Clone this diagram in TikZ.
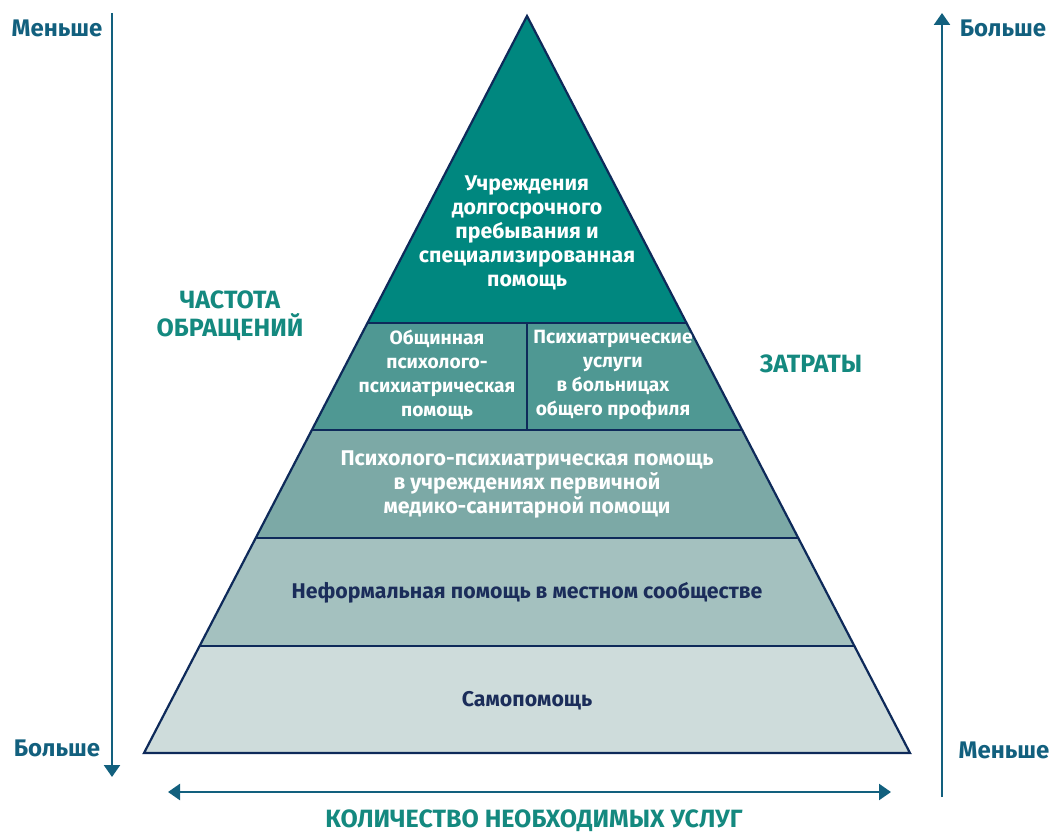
\documentclass[tikz,border=0pt]{standalone}
\usepackage{fontspec}
\setmainfont{Fira Sans}
\usetikzlibrary{arrows.meta}
\definecolor{c1}{HTML}{00877F}
\definecolor{c2}{HTML}{4F9893}
\definecolor{c3}{HTML}{7CA9A6}
\definecolor{c4}{HTML}{A4C1BF}
\definecolor{c5}{HTML}{CEDCDB}
\definecolor{edge}{HTML}{0E2A5A}
\definecolor{navytxt}{HTML}{1B2D5A}
\definecolor{arr}{HTML}{12607E}
\definecolor{tealtxt}{HTML}{14897F}
\tikzset{
  tier/.style={draw=edge, line width=2.2pt, line join=miter},
  wtxt/.style={text=white, font=\bfseries\fontsize{21.3}{24}\selectfont, align=center, inner sep=0pt},
  wsmall/.style={text=white, font=\bfseries\fontsize{19.2}{24}\selectfont, align=center, inner sep=0pt},
  ntxt/.style={text=navytxt, font=\bfseries\fontsize{21.3}{24}\selectfont, align=center, inner sep=0pt},
  axis/.style={draw=arr, line width=2.4pt},
  tip/.style={-{Triangle[width=16pt,length=12pt]}},
  axlbl/.style={text=arr, font=\bfseries\fontsize{24}{28}\selectfont, inner sep=0pt},
  ttl/.style={text=tealtxt, font=\bfseries\fontsize{25}{28}\selectfont, align=center, inner sep=0pt},
}
\begin{document}
\begin{tikzpicture}[x=1pt,y=-1pt]
\useasboundingbox (0,0) rectangle (1053,834);
% pyramid corners
\coordinate (A) at (527,16);
\coordinate (L1) at (367.5,323); \coordinate (R1) at (686.5,323);
\coordinate (L2) at (311.8,430); \coordinate (R2) at (742.2,430);
\coordinate (L3) at (255.7,538); \coordinate (R3) at (798.3,538);
\coordinate (L4) at (199.6,646); \coordinate (R4) at (854.4,646);
\coordinate (L5) at (144,753);   \coordinate (R5) at (910,753);
\coordinate (M1) at (527,323); \coordinate (M2) at (527,430);
\fill[c5] (L4) -- (R4) -- (R5) -- (L5) -- cycle;
\fill[c4] (L3) -- (R3) -- (R4) -- (L4) -- cycle;
\fill[c3] (L2) -- (R2) -- (R3) -- (L3) -- cycle;
\fill[c2] (L1) -- (R1) -- (R2) -- (L2) -- cycle;
\fill[c1] (A) -- (R1) -- (L1) -- cycle;
\draw[tier] (L1) -- (R1);
\draw[tier] (L2) -- (R2);
\draw[tier] (L3) -- (R3);
\draw[tier] (L4) -- (R4);
\draw[tier] (M1) -- (M2);
\draw[tier] (A) -- (R5) -- (L5) -- cycle;
% texts
\node[wtxt] (t1) at (527,233) {Учреждения\\долгосрочного\\пребывания и\\специализированная\\помощь};
\node[wsmall] (t2a) at (437,375) {Общинная\\психолого-\\психиатрическая\\помощь};
\node[wsmall] (t2b) at (613,375) {Психиатрические\\услуги\\в больницах\\общего профиля};
\node[wtxt] (t3) at (527,484) {Психолого-психиатрическая помощь\\в учреждениях первичной\\медико-санитарной помощи};
\node[ntxt] (t4) at (527,593) {Неформальная помощь в местном сообществе};
\node[ntxt] (t5) at (527,701) {Самопомощь};
% axes
\coordinate (la) at (112,13); \coordinate (lb) at (112,777);
\coordinate (ra) at (942,797); \coordinate (rb) at (942,13);
\coordinate (ba) at (168,792); \coordinate (bb) at (891,792);
\draw[axis, tip] (la) -- (lb);
\draw[axis, tip] (ra) -- (rb);
\draw[axis, {Triangle[width=16pt,length=12pt]}-{Triangle[width=16pt,length=12pt]}] (ba) -- (bb);
\node[axlbl] (l1) at (57,28) {Меньше};
\node[axlbl] (l2) at (57,748) {Больше};
\node[axlbl] (r1) at (1003,28) {Больше};
\node[axlbl] (r2) at (1004,750) {Меньше};
\node[ttl] (f) at (230,316) {ЧАСТОТА\\ОБРАЩЕНИЙ};
\node[ttl] (z) at (811,364) {ЗАТРАТЫ};
\node[ttl] (k) at (534,821) {КОЛИЧЕСТВО НЕОБХОДИМЫХ УСЛУГ};
\end{tikzpicture}
\end{document}
